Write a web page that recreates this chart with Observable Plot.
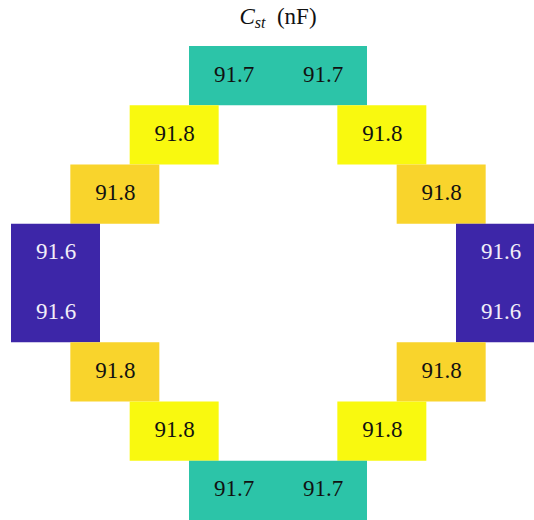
<!DOCTYPE html>
<html>
<head>
<meta charset="utf-8">
<script src="https://cdn.jsdelivr.net/npm/d3@7"></script>
<script src="https://cdn.jsdelivr.net/npm/@observablehq/plot@0.6"></script>
<style>
  html, body { margin: 0; padding: 0; background: white; overflow: hidden; }
  #title { width: 534px; height: 46px; box-sizing: border-box; padding-left: 22px; text-align: center;
           font-family: "Liberation Serif", "DejaVu Serif", serif; font-size: 23px; line-height: 34px; color: #111; }
  #title sub { font-size: 16px; vertical-align: -4px; line-height: 0; }
</style>
</head>
<body>
<div id="title"><i>C</i><sub><i>st</i></sub>&nbsp;&nbsp;(nF)</div>
<div id="chart"></div>
<script>
// Grid position of each capacitor (column centre in grid units, row index)
const cols = [-0.75, 0.75, -1.75, 1.75, -2.75, 2.75, -3.75, 3.75, -3.75, 3.75, -2.75, 2.75, -1.75, 1.75, -0.75, 0.75];
const rows = [0, 0, 1, 1, 2, 2, 3, 3, 4, 4, 5, 5, 6, 6, 7, 7];
// Capacitance values (nF)
const values = [91.70, 91.70, 91.82, 91.82, 91.78, 91.78, 91.60, 91.60, 91.60, 91.60, 91.78, 91.78, 91.82, 91.82, 91.70, 91.70];
// Colour map stops
const colorDomain = [91.60, 91.70, 91.78, 91.82];
const colorRange = ["#3d26a8", "#2cc4a8", "#f9d42c", "#f9f90f"];

const data = values.map((v, i) => ({col: cols[i], row: rows[i], value: v}));
const halfW = 0.75;
const fmt = d3.format(".1f");
const serif = "Liberation Serif";

const chart = Plot.plot({
  width: 534,
  height: 474,
  marginTop: 0,
  marginBottom: 0,
  marginLeft: 11,
  marginRight: 0,
  x: {domain: [-4.5, 4.5], range: [11, 545], axis: null},
  y: {domain: [0, 8], range: [0, 474], axis: null},
  color: {type: "linear", domain: colorDomain, range: colorRange},
  marks: [
    Plot.rect(data, {
      x1: d => d.col - halfW, x2: d => d.col + halfW,
      y1: d => d.row, y2: d => d.row + 1,
      fill: "value"
    }),
    Plot.text(data.filter(d => d.value >= 91.65), {
      x: "col", y: d => d.row + 0.5, text: d => fmt(d.value),
      fill: "#111", fontSize: 23, fontFamily: serif, dy: -2
    }),
    Plot.text(data.filter(d => d.value < 91.65), {
      x: "col", y: d => d.row + 0.5, text: d => fmt(d.value),
      fill: "#f2eef8", fontSize: 23, fontFamily: serif, dy: -2
    })
  ]
});
document.getElementById("chart").appendChild(chart);
</script>
</body>
</html>
